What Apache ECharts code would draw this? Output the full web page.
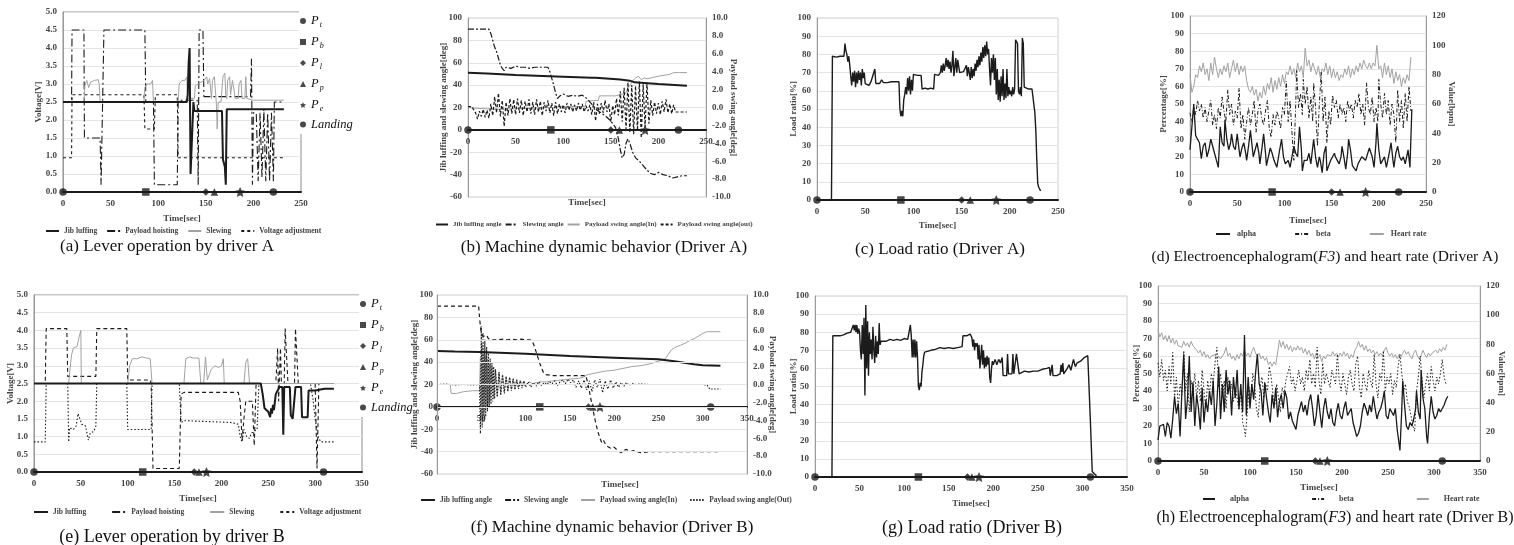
<!DOCTYPE html>
<html>
<head>
<meta charset="utf-8">
<title>Lever operation, machine behavior, load ratio and EEG (Driver A / B)</title>
<script src="https://cdn.jsdelivr.net/npm/echarts@6/dist/echarts.min.js"></script>
<style>
  html, body { margin: 0; padding: 0; background: #fff; }
  #chart { width: 1514px; height: 545px; }
</style>
</head>
<body>
<div id="chart"></div>
<script>
// ============================================================
//  Data
// ============================================================

// event markers (same symbols on every panel)
const eventNames = ['Pt', 'Pb', 'Pl', 'Pp', 'Pe', 'Landing'];
const eventTimesA = [0, 87, 150, 159, 186, 221];
const eventTimesB = [0, 116, 171, 176, 184, 309];

// ---- (a) lever operation, driver A [V] ----
const leverA_jib = [[0,2.5],[130,2.5],[131,2.7],[132,3.6],[133,4.0],[134,0.5],[136,0.5],[137,2.5],[138,2.25],[167,2.25],[168,0.9],[170,0.7],[171,0.2],[172,2.3],[232,2.3]];
const leverA_hoist = [[0,2.5],[9,2.5],[9.5,4.5],[22,4.5],[22.5,1.5],[39,1.5],[40,0.2],[42,0.2],[43,4.5],[86,4.5],[87,2.5],[95,2.5],[96,0.2],[120,0.2],[121,2.55],[141,2.55],[142,0.2],[143,4.5],[147,4.5],[148,2.65],[197,2.65],[198,3.7],[199,0.2],[200,2.2],[203,2.2],[205,0.3],[207,2.2],[209,0.4],[211,2.3],[213,0.3],[215,2.2],[217,0.3],[219,2.2],[221,0.3],[222,2.5],[232,2.5]];
const leverA_slew = [[0,2.5],[22,2.5],[23,2.95],[25,3.1],[27,2.9],[29,3.05],[31,3.0],[33,3.1],[35,3.05],[37,3.12],[38,3.0],[39,2.5],[85,2.5],[86,2.9],[88,3.0],[90,3.05],[92,3.0],[94,3.1],[95,2.5],[121,2.5],[122,3.0],[125,3.1],[128,3.1],[130,3.2],[131,2.6],[138,2.6],[139,2.95],[142,3.0],[145,3.05],[148,3.1],[151,3.2],[152,3.0],[154,3.15],[156,2.6],[157,3.1],[159,3.2],[160,3.15],[161,2.5],[162,1.75],[163,2.5],[166,2.5],[168,3.2],[170,3.3],[171,2.7],[172,2.6],[173,3.1],[175,3.2],[176,2.7],[178,3.1],[180,3.05],[181,2.6],[184,2.6],[185,3.0],[187,3.1],[188,2.6],[191,2.6],[192,3.2],[193,2.6],[200,2.55],[232,2.55]];
const leverA_volt = [[0,0.95],[9,0.95],[9.5,2.7],[85,2.7],[86,1.75],[96,1.75],[97,2.7],[120,2.7],[121,0.95],[232,0.95]];

// ---- (b) machine dynamic behavior, driver A [deg] ----
const dynA_jib = [[0,51],[20,50.5],[50,49],[100,47.5],[130,46.5],[132,47.5],[134,46.5],[160,45],[170,44],[175,42.5],[185,42],[200,41],[230,39.5]];
const dynA_slew = [[0,90],[22,90],[24,86],[26,80],[28,74],[30,70],[32,64],[34,58],[36,55],[38,53],[40,56],[45,55],[50,57],[55,56],[60,56],[65,55],[70,56],[75,56],[80,56],[84,56],[86,52],[88,46],[90,40],[92,33],[94,28],[96,30],[100,32],[105,30],[110,31],[115,30],[120,31],[125,28],[130,23],[135,18],[140,15],[145,12],[150,8],[155,2],[158,-8],[160,-18],[162,-25],[164,-22],[166,-12],[168,-8],[170,-12],[173,-20],[176,-25],[180,-28],[184,-32],[188,-36],[192,-39],[196,-40],[200,-38],[205,-40],[210,-41],[215,-43],[220,-42],[225,-41],[230,-41]];
const dynA_swingIn = [[0,0.0],[10,-0.1],[30,-0.2],[60,-0.1],[90,0.0],[95,0.1],[123,0.1],[124,0.7],[137,0.8],[138,1.3],[155,1.3],[156,1.5],[166,1.6],[168,2.2],[171,2.6],[173,3.0],[176,3.3],[179,3.5],[182,3.1],[185,3.3],[188,3.2],[192,3.3],[196,3.4],[200,3.5],[206,3.6],[212,3.7],[216,3.9],[222,3.9],[230,3.9]];
const dynA_swingOut = [[0,0.1],[4,0.1],[6,0.0],[8,-0.6],[10,-1.3],[12,-0.4],[14,-1.0],[16,-0.2],[18,-1.1],[20,-0.3],[22,-1.2],[24,0.4],[26,-0.9],[28,1.2],[30,-0.6],[32,1.6],[34,-1.0],[36,0.8],[38,-2.1],[40,0.6],[42,-0.9],[44,1.0],[46,-0.7],[48,0.9],[50,-0.8],[52,1.0],[54,-0.6],[56,0.8],[58,-0.9],[60,0.7],[62,-0.5],[64,0.9],[66,-0.7],[68,0.6],[70,-0.8],[72,0.9],[74,-0.5],[76,0.7],[78,-0.9],[80,0.6],[82,-0.4],[84,0.8],[86,-0.6],[88,0.5],[90,-0.9],[92,0.6],[94,-0.7],[96,0.4],[98,-0.5],[100,0.3],[102,-0.6],[104,0.5],[106,-0.3],[108,0.4],[110,-0.5],[112,0.3],[114,-0.4],[116,0.5],[118,-0.3],[120,0.4],[122,-0.5],[124,0.2],[126,-0.4],[128,0.3],[130,-0.8],[132,0.6],[134,-1.5],[136,0.4],[138,-0.7],[140,0.5],[142,-0.6],[144,0.8],[146,-0.5],[148,0.4],[150,-1.6],[152,0.2],[154,-0.8],[156,1.0],[158,-0.9],[160,1.8],[162,-1.6],[164,2.2],[166,-2.4],[168,2.8],[170,-2.8],[172,2.5],[174,-3.0],[176,2.4],[178,-2.6],[180,2.9],[182,-3.4],[184,2.6],[186,-2.2],[188,2.8],[190,-1.8],[192,0.8],[194,-0.9],[196,0.6],[198,-0.7],[200,0.5],[202,-0.8],[204,0.7],[206,-0.5],[208,0.9],[210,-0.6],[212,0.4],[214,-0.7],[216,0.3],[218,-0.5],[220,-0.5],[230,-0.5]];

// ---- (c) load ratio, driver A [%] ----
const loadA = [[0,0],[15,0],[16,79],[18,78],[20,78.5],[22,78],[24,79],[26,78.5],[28,79],[29,86],[30,82],[31,80],[32,76],[33,79],[34,74],[35,68],[36,63],[37,70],[38,65],[39,71],[40,62],[41,70],[42,64],[43,71],[44,66],[45,70],[46,63],[47,72],[48,67],[49,70],[50,64],[52,65],[54,63],[56,65],[58,64],[60,72],[61,64],[63,65],[65,64],[67,66],[69,64.5],[71,65.5],[73,64.5],[75,65.5],[77,65],[79,66],[81,65],[83,66],[85,65],[86,50],[87,46],[88,49],[89,46],[90,55],[91,58],[92,62],[93,58],[94,67],[95,60],[96,68],[97,58],[98,66],[99,60],[100,69],[102,69],[104,68.5],[106,69],[108,68.5],[109,61],[112,61.5],[115,61],[118,61.5],[121,61],[122,69],[124,69.5],[126,68.5],[128,70],[129,74],[130,70],[131,75],[132,71],[133,74],[134,78],[135,73],[136,77],[137,72],[138,76],[139,70],[140,74],[141,82],[142,68],[143,73],[144,78],[145,70],[146,77],[147,78],[148,70],[150,70],[152,70.5],[154,71],[155,74],[156,68],[157,73],[158,70],[159,66],[160,73],[161,67],[162,72],[163,68],[164,75],[165,71],[166,77],[167,73],[168,79],[169,74],[170,81],[171,76],[172,84],[173,78],[174,85],[175,79],[176,87],[177,80],[178,83],[179,72],[180,63],[181,78],[182,70],[183,80],[184,66],[185,78],[186,58],[187,72],[188,55],[189,66],[190,54],[191,68],[192,57],[193,72],[194,55],[195,64],[196,56],[197,72],[198,57],[199,62],[200,58],[201,60],[202,57],[203,62],[204,58],[205,61],[206,88],[207,87],[208,86],[209,60],[210,58],[211,62],[212,57],[213,89],[214,86],[215,62],[217,62],[219,61],[221,62],[223,61],[225,60],[226,48],[227,38],[228,22],[229,9],[230,7],[232,5]];

// ---- (d) EEG (F3) [%] and heart rate [bpm], driver A ----
const eegA_alpha = [[0,24],[2,25],[4,50],[6,32],[8,30],[10,28],[12,19],[14,26],[16,28],[18,20],[20,24],[22,30],[24,26],[26,22],[28,18],[30,14],[32,37],[34,28],[36,26],[37,41],[39,30],[41,24],[43,28],[44,33],[46,26],[48,24],[50,33],[52,24],[53,20],[55,25],[57,28],[59,22],[60,18],[62,26],[64,35],[66,25],[67,20],[69,24],[71,28],[73,22],[74,16],[76,24],[78,33],[80,22],[81,15],[83,20],[85,25],[87,22],[89,18],[92,14],[95,24],[97,30],[99,20],[101,16],[104,18],[106,14],[108,20],[110,26],[112,22],[114,20],[116,37],[118,24],[119,12],[121,18],[124,18],[126,22],[128,16],[131,30],[133,20],[135,14],[137,20],[138,18],[140,11],[142,22],[144,26],[145,12],[147,11],[149,18],[151,20],[153,22],[154,20],[156,18],[158,16],[160,20],[161,26],[163,20],[165,13],[167,22],[168,30],[170,24],[172,15],[174,14],[176,12],[178,16],[179,16],[182,20],[184,20],[186,18],[188,18],[190,25],[191,26],[193,20],[195,14],[197,28],[198,39],[200,24],[202,16],[204,18],[206,20],[208,14],[209,14],[211,22],[213,28],[215,18],[216,14],[218,22],[220,26],[222,20],[224,18],[226,20],[228,16],[229,16],[231,24],[233,14],[235,47]];
const eegA_beta = [[0,45],[2,40],[4,48],[6,44],[8,52],[10,46],[12,50],[14,42],[16,48],[18,40],[20,46],[22,52],[24,38],[26,44],[28,36],[30,48],[32,42],[34,54],[36,46],[38,40],[40,58],[42,44],[44,50],[46,38],[48,46],[50,42],[52,59],[54,36],[56,44],[58,30],[60,40],[62,48],[64,38],[66,44],[68,52],[70,34],[72,46],[74,50],[76,42],[78,38],[80,46],[82,52],[84,36],[86,31],[88,44],[90,38],[92,46],[94,42],[96,36],[98,48],[100,44],[102,63],[104,40],[106,52],[108,34],[110,18],[112,50],[113,69],[115,48],[117,56],[119,44],[120,64],[122,50],[124,60],[126,42],[128,54],[130,40],[131,62],[133,48],[135,26],[137,50],[139,68],[141,40],[143,54],[145,28],[147,46],[149,38],[151,55],[153,48],[155,52],[157,42],[159,50],[161,44],[163,48],[165,40],[167,52],[169,46],[171,50],[173,42],[175,52],[177,48],[179,56],[181,44],[183,50],[185,38],[187,62],[189,48],[191,44],[193,54],[195,40],[197,48],[199,40],[200,64],[202,50],[204,42],[206,56],[208,44],[210,52],[212,38],[214,50],[216,44],[218,28],[220,58],[222,40],[224,52],[226,36],[228,56],[230,40],[232,60],[234,46]];
const eegA_hr = [[0,80],[2,68],[4,72],[6,80],[8,78],[10,86],[12,82],[14,88],[16,80],[18,84],[20,76],[22,88],[24,80],[26,92],[28,84],[30,78],[32,84],[34,80],[36,86],[38,82],[40,88],[42,78],[44,84],[46,90],[48,82],[50,88],[52,80],[54,86],[56,82],[58,86],[60,76],[62,70],[64,68],[66,72],[68,66],[70,70],[72,62],[74,68],[76,64],[78,72],[80,66],[82,74],[84,70],[86,78],[88,68],[90,76],[92,70],[94,78],[96,72],[98,80],[100,74],[102,82],[104,80],[106,86],[108,80],[110,84],[112,78],[114,88],[116,82],[118,86],[120,78],[122,98],[124,86],[126,90],[128,82],[130,88],[132,84],[134,80],[136,86],[138,78],[140,84],[142,82],[144,88],[146,80],[148,86],[150,78],[152,84],[154,78],[156,82],[158,76],[160,80],[162,78],[164,84],[166,80],[168,86],[170,78],[172,84],[174,80],[176,86],[178,82],[180,88],[182,84],[184,90],[186,86],[188,84],[190,88],[192,84],[194,88],[196,86],[198,100],[200,84],[202,86],[204,78],[206,88],[208,80],[210,86],[212,78],[214,84],[216,74],[218,82],[220,76],[222,80],[224,72],[226,78],[228,74],[230,80],[232,76],[234,92]];

// ---- (e) lever operation, driver B [V] ----
const leverB_jib = [[0,2.5],[242,2.5],[244,2.2],[246,1.8],[248,1.85],[250,1.7],[252,1.55],[253,1.8],[254,1.65],[255,1.9],[256,1.75],[258,2.2],[260,2.3],[262,2.4],[265,2.4],[266,1.05],[267,2.4],[273,2.4],[274,1.6],[276,1.5],[278,1.5],[279,2.4],[285,2.4],[286,1.55],[292,1.55],[293,2.3],[300,2.3],[310,2.35],[320,2.35]];
const leverB_hoist = [[0,2.5],[12,2.5],[13,4.05],[35,4.05],[36,2.7],[66,2.7],[67,4.05],[99,4.05],[100,2.6],[124,2.6],[125,2.5],[127,0.1],[155,0.1],[157,2.2],[160,2.25],[218,2.25],[220,2.0],[222,0.9],[224,1.5],[226,2.0],[233,2.0],[235,0.75],[237,2.5],[258,2.5],[260,3.5],[261,2.0],[263,3.5],[264,2.5],[267,2.5],[268,4.05],[270,4.05],[271,2.5],[278,2.5],[279,4.05],[281,4.05],[282,2.5],[300,2.5],[302,0.1],[304,2.5],[320,2.5]];
const leverB_slew = [[0,2.5],[37,2.5],[38,2.8],[40,3.3],[42,3.5],[44,3.45],[46,3.55],[48,3.8],[50,4.0],[50.5,2.5],[100,2.5],[102,3.0],[105,3.2],[110,3.2],[115,3.25],[120,3.22],[124,3.2],[126,2.5],[160,2.5],[162,3.2],[166,3.25],[170,3.22],[176,3.22],[178,2.5],[181,2.5],[183,3.25],[185,2.6],[187,2.6],[189,2.9],[193,3.0],[197,2.95],[200,3.0],[202,3.2],[203,2.5],[224,2.5],[226,3.1],[228,3.2],[230,2.5],[320,2.5]];
const leverB_volt = [[0,0.85],[12,0.85],[13,2.5],[36,2.5],[37,0.85],[38,1.25],[42,1.2],[45,1.3],[47,1.65],[49,1.7],[51,1.35],[55,1.3],[57,1.3],[58,0.9],[60,1.1],[64,1.15],[66,1.3],[67,2.5],[99,2.5],[100,1.2],[125,1.2],[126,2.5],[155,2.5],[157,1.4],[160,1.45],[210,1.4],[218,1.35],[220,1.0],[222,0.85],[224,1.2],[227,1.0],[230,0.95],[232,1.1],[235,1.15],[238,1.2],[240,2.5],[295,2.5],[298,2.0],[300,1.5],[303,1.0],[306,0.85],[320,0.85]];

// ---- (f) machine dynamic behavior, driver B [deg] ----
const dynB_jib = [[0,50],[20,49.5],[48,49],[50,48.5],[100,47.5],[150,45.5],[200,44],[250,42.5],[270,40.5],[290,38],[300,37.2],[320,36.8]];
const dynB_slew = [[0,90],[47,90],[48,80],[49,72],[50,66],[52,63],[54,62],[56,64],[58,61],[60,62],[62,60],[64,61],[66,60],[68,61],[70,60],[75,60.5],[80,60],[85,60.5],[90,60],[95,60.5],[100,60],[105,60],[108,58],[110,54],[112,49],[114,44],[116,39],[118,35],[120,31],[122,29],[124,28],[130,28],[140,28],[150,28],[160,28],[168,28],[170,22],[172,14],[174,6],[176,-2],[178,-10],[180,-17],[182,-23],[184,-28],[186,-32],[188,-30],[190,-33],[192,-35],[194,-34],[196,-37],[198,-38],[200,-36],[202,-37],[204,-39],[206,-38],[208,-41],[210,-39],[214,-38],[218,-40],[222,-39],[226,-40],[230,-41],[240,-40],[260,-40],[280,-40],[300,-40],[320,-40]];
const dynB_swingIn = [[0,0],[15,0],[16,-1.0],[18,-1.1],[22,-1.0],[30,-0.8],[40,-0.7],[48,-0.7],[49,3.0],[50,-4.0],[51,4.5],[52,-3.5],[53,3.8],[54,-3.0],[55,3.2],[56,-2.6],[57,2.8],[58,-2.2],[59,2.3],[60,-1.9],[62,2.0],[64,-1.6],[66,1.7],[68,-1.3],[70,1.4],[72,-1.0],[74,1.1],[76,-0.8],[78,0.9],[80,-0.6],[82,0.8],[84,-0.5],[86,0.7],[88,-0.4],[90,0.6],[92,-0.3],[94,0.5],[96,-0.2],[98,0.4],[100,-0.1],[104,0.3],[108,0.1],[112,0.2],[118,0.3],[124,0.3],[130,0.4],[140,0.5],[150,0.6],[160,0.7],[165,0.8],[170,1.1],[180,1.3],[190,1.5],[200,1.6],[210,1.8],[220,2.0],[230,2.1],[240,2.3],[250,2.6],[258,2.9],[262,3.5],[265,3.9],[270,4.2],[275,4.4],[280,4.6],[285,4.9],[290,5.1],[295,5.4],[300,5.7],[305,5.9],[320,5.9]];
const dynB_swingOut = [[0,0],[10,0.05],[20,-0.05],[30,0.0],[40,-0.05],[48,0],[49,-5.5],[50,6.5],[51,-4.8],[52,5.8],[53,-4.2],[54,5.0],[55,-3.6],[56,4.2],[57,-3.0],[58,3.5],[59,-2.6],[60,2.9],[61,-2.2],[62,2.4],[63,-1.9],[64,2.0],[65,-1.6],[66,1.7],[68,-1.4],[70,1.4],[72,-1.2],[74,1.1],[76,-1.0],[78,0.9],[80,-0.8],[82,0.8],[84,-0.7],[86,0.6],[88,-0.6],[90,0.5],[92,-0.5],[94,0.4],[96,-0.4],[98,0.4],[100,-0.3],[103,0.3],[106,-0.3],[109,0.2],[112,-0.2],[115,0.3],[118,-0.1],[121,0.2],[124,0.0],[127,0.3],[130,0.1],[133,0.4],[136,-0.1],[139,0.3],[142,0.5],[145,0.1],[148,0.6],[151,0.2],[154,0.5],[157,-0.3],[160,0.4],[163,-0.4],[166,0.5],[169,-0.6],[172,0.4],[175,-0.8],[178,0.5],[181,-0.3],[184,0.6],[187,-0.9],[190,0.4],[193,-0.5],[196,0.5],[199,-0.4],[202,0.3],[205,-0.3],[208,0.2],[211,-0.2],[214,0.2],[217,-0.1],[220,0.1],[225,0.0],[230,0.05],[240,0.0],[260,0.0],[280,0.0],[300,0.0],[305,-0.1],[308,-0.5],[320,-0.5]];

// ---- (g) load ratio, driver B [%] ----
const loadB = [[0,0],[19,0],[20,78],[22,79],[24,78],[26,78.5],[28,78],[30,79],[32,78.5],[34,79],[36,79.5],[38,79],[40,80],[42,79.5],[43,84],[44,81],[45,84],[46,80],[47,84],[48,79],[49,82],[50,80],[51,70],[52,65],[53,84],[54,68],[55,88],[56,45],[57,95],[58,60],[59,86],[60,56],[61,80],[62,68],[63,76],[64,65],[65,83],[66,70],[67,63],[68,78],[69,66],[70,75],[71,68],[72,85],[73,73],[74,75],[76,75.5],[80,75],[84,76],[88,75.5],[92,76],[96,75.5],[100,76.5],[104,76],[106,77],[107,84],[108,78],[109,66],[110,76],[111,66],[112,76],[113,66],[114,75],[115,66],[116,50],[117,48],[118,52],[119,50],[120,58],[121,62],[122,67],[123,69],[125,69.5],[130,70],[135,70.5],[140,71.5],[145,71],[150,71.5],[155,71],[160,71.5],[165,72],[166,78],[168,77],[170,78],[172,77],[174,79],[176,77],[177,72],[178,76],[179,70],[180,74],[181,72],[182,74],[183,65],[184,73],[185,60],[186,66],[187,73],[188,62],[189,70],[190,60],[191,66],[192,61],[193,67],[194,62],[195,66],[196,55],[197,52],[198,60],[199,64],[200,62],[202,65],[204,62],[206,65],[208,63],[210,66],[211,56],[213,57],[215,56],[216,68],[217,57],[219,58],[221,57],[222,68],[223,57],[225,58],[226,68],[228,67],[229,57],[231,58],[235,58.5],[240,58],[245,58.5],[250,58.5],[255,59.5],[260,60],[263,60.5],[264,56],[266,62],[267,56],[269,55.5],[271,56],[273,55],[275,57],[276,62],[277,58],[278,63],[279,57],[281,58],[283,60],[285,62],[287,59],[289,63],[290,65],[292,61],[294,63],[296,62],[298,64],[300,63],[302,66],[304,65],[306,67],[307,66],[309,30],[311,3],[313,2],[315,1],[316,1]];

// ---- (h) EEG (F3) [%] and heart rate [bpm], driver B ----
const eegB_alpha = [[0,12],[2,20],[4,19],[6,21],[8,14],[10,22],[12,20],[14,13],[16,24],[18,37],[20,27],[22,33],[24,14],[26,40],[28,61],[30,24],[32,35],[34,60],[36,28],[38,45],[40,20],[42,38],[44,30],[46,18],[48,42],[50,22],[52,35],[54,28],[56,40],[58,32],[60,46],[62,20],[64,33],[66,54],[68,24],[70,44],[72,28],[74,52],[76,38],[78,46],[80,26],[82,48],[84,36],[86,52],[88,30],[90,44],[92,28],[94,72],[96,26],[98,48],[100,30],[102,44],[104,35],[106,50],[108,61],[110,44],[112,40],[114,26],[116,45],[118,36],[120,28],[122,22],[124,38],[126,30],[128,42],[130,25],[132,34],[134,38],[136,30],[138,40],[140,36],[142,24],[144,28],[146,23],[148,22],[150,18],[152,26],[154,30],[156,34],[158,28],[160,32],[162,26],[164,34],[166,38],[168,30],[170,20],[172,26],[174,38],[176,28],[178,19],[180,30],[182,36],[184,28],[186,24],[188,30],[190,22],[192,20],[194,28],[196,33],[198,26],[200,24],[202,30],[204,34],[206,26],[208,28],[210,30],[212,22],[214,18],[216,14],[218,16],[220,20],[222,28],[224,33],[226,30],[228,26],[230,32],[232,28],[234,37],[236,30],[238,24],[240,28],[242,30],[244,34],[246,40],[248,26],[250,24],[252,30],[254,28],[256,26],[258,30],[260,18],[261,14],[263,6],[265,30],[266,46],[268,32],[270,20],[272,18],[274,22],[276,20],[278,24],[280,30],[281,40],[283,28],[285,24],[286,52],[288,36],[290,30],[292,14],[293,10],[295,26],[297,37],[299,28],[301,24],[303,26],[305,30],[307,28],[309,30],[311,32],[313,35],[315,37]];
const eegB_beta = [[0,56],[2,48],[4,58],[6,46],[8,52],[10,40],[12,54],[14,44],[16,62],[18,36],[20,48],[22,30],[24,44],[26,38],[28,63],[30,40],[32,50],[34,28],[36,46],[38,40],[40,50],[42,36],[44,46],[46,34],[48,52],[50,40],[52,30],[54,46],[56,38],[58,50],[60,44],[62,56],[64,65],[66,42],[68,50],[70,36],[72,46],[74,30],[76,48],[78,40],[80,44],[82,34],[84,42],[86,36],[88,29],[90,40],[92,22],[94,18],[95,14],[97,28],[99,42],[101,36],[103,50],[105,44],[107,30],[109,25],[111,42],[113,48],[115,36],[117,44],[119,40],[121,54],[123,48],[125,38],[127,32],[129,44],[131,36],[133,28],[135,42],[137,38],[139,46],[141,50],[143,54],[145,44],[147,48],[149,40],[151,46],[153,52],[155,44],[157,48],[159,40],[161,52],[163,46],[165,58],[167,44],[169,50],[171,42],[173,65],[175,46],[177,38],[179,56],[181,44],[183,50],[185,46],[187,42],[189,52],[191,48],[193,44],[195,61],[197,46],[199,40],[201,50],[203,44],[205,38],[207,48],[209,52],[211,44],[213,40],[215,56],[217,60],[219,42],[221,36],[223,50],[225,44],[227,40],[229,52],[231,46],[233,42],[235,61],[237,44],[239,36],[241,50],[243,46],[245,63],[247,40],[249,48],[251,44],[253,50],[255,38],[257,46],[259,42],[261,54],[263,61],[265,50],[267,40],[269,44],[271,34],[273,31],[275,26],[277,20],[279,17],[281,40],[283,48],[285,60],[287,46],[289,36],[291,44],[293,50],[295,40],[297,54],[299,46],[301,40],[303,48],[305,44],[307,50],[309,58],[311,48],[313,44]];
const eegB_hr = [[0,90],[2,85],[4,88],[6,83],[8,86],[10,82],[12,86],[14,81],[16,84],[18,80],[20,83],[22,79],[24,80],[26,78],[28,82],[30,79],[32,81],[34,78],[36,82],[38,79],[40,80],[42,76],[44,74],[46,76],[48,72],[50,75],[52,71],[54,73],[56,70],[58,72],[60,71],[62,73],[64,70],[66,72],[68,70],[70,71],[72,74],[74,78],[76,72],[78,74],[80,70],[82,72],[84,69],[86,73],[88,70],[90,74],[92,72],[94,76],[96,72],[98,74],[100,71],[102,75],[104,78],[106,74],[108,72],[110,74],[112,70],[114,72],[116,69],[118,71],[120,66],[122,68],[124,65],[126,68],[128,66],[130,74],[132,83],[134,78],[136,82],[138,77],[140,80],[142,76],[144,79],[146,75],[148,78],[150,76],[152,79],[154,76],[156,78],[158,74],[160,77],[162,73],[164,76],[166,72],[168,74],[170,70],[172,74],[174,71],[176,73],[178,68],[180,72],[182,70],[184,73],[186,74],[188,72],[190,75],[192,72],[194,74],[196,71],[198,74],[200,72],[202,75],[204,72],[206,74],[208,70],[210,73],[212,71],[214,76],[216,78],[218,82],[220,78],[222,80],[224,76],[226,79],[228,75],[230,77],[232,74],[234,76],[236,73],[238,75],[240,72],[242,74],[244,72],[246,76],[248,78],[250,74],[252,72],[254,74],[256,71],[258,73],[260,70],[262,73],[264,71],[266,74],[268,76],[270,73],[272,75],[274,72],[276,70],[278,74],[280,76],[282,72],[284,70],[286,72],[288,76],[290,73],[292,71],[294,74],[296,72],[298,74],[300,73],[302,76],[304,74],[306,77],[308,75],[310,78],[312,76],[314,80]];

// ============================================================
//  Styles / helpers
// ============================================================
const FONT = '"Liberation Serif", "DejaVu Serif", serif';
const BLACK = '#1b1b1b';
const GREY = '#a2a2a2';
const LABEL = { fontFamily: FONT, fontSize: 9, fontWeight: 'bold', color: '#444' };
const STAR = 'path://M0,-10L2.9,-4L9.5,-3.1L4.7,1.5L5.9,8.1L0,5L-5.9,8.1L-4.7,1.5L-9.5,-3.1L-2.9,-4Z';
const eventSymbols = ['circle', 'rect', 'diamond', 'triangle', STAR, 'circle'];

const grids = [];
const xAxes = [];
const yAxes = [];
const series = [];
const legends = [];
const titles = [];

function addGrid(left, top, width, height, border) {
  grids.push({ left, top, width, height, show: true, borderColor: border, borderWidth: 1, containLabel: false });
  return grids.length - 1;
}

// time axis; when the value axis goes below zero the axis is shifted up to the zero line
function addTimeAxis(gi, max, nameGap, yMin, yMax) {
  let offset = 0;
  if (yMin !== undefined && yMin < 0) {
    offset = -grids[gi].height * (0 - yMin) / (yMax - yMin);
  }
  xAxes.push({
    type: 'value', gridIndex: gi, min: 0, max, interval: 50, position: 'bottom', offset,
    name: nameGap ? 'Time[sec]' : '', nameLocation: 'middle', nameGap: nameGap || 0,
    nameMoveOverlap: false,
    nameTextStyle: LABEL,
    axisLine: { show: true, onZero: false, lineStyle: { color: BLACK, width: 2 } },
    axisTick: { show: false },
    axisLabel: Object.assign({ margin: 7 }, LABEL),
    splitLine: { show: false }
  });
  return xAxes.length - 1;
}

function addValueAxis(gi, o) {
  yAxes.push({
    type: 'value', gridIndex: gi, min: o.min, max: o.max, interval: o.interval,
    position: o.pos || 'left', z: o.z || 0,
    name: o.name, nameLocation: 'middle', nameGap: o.gap, nameRotate: o.pos === 'right' ? -90 : 90,
    nameMoveOverlap: false,
    nameTextStyle: LABEL,
    axisLine: { show: true, lineStyle: { color: '#9a9a9a', width: 1 } },
    axisTick: { show: false },
    axisLabel: Object.assign({ margin: o.margin || 6, formatter: o.fmt }, LABEL),
    splitLine: { show: !!o.split, lineStyle: { color: '#e4e4e4', width: 1 } }
  });
  return yAxes.length - 1;
}

function addLine(name, data, xi, yi, color, width, dash) {
  series.push({
    name, type: 'line', xAxisIndex: xi, yAxisIndex: yi, data,
    symbol: 'none', showSymbol: false, silent: true,
    lineStyle: { color, width, type: dash || 'solid' },
    itemStyle: { color }, z: 2
  });
}

function addEvents(times, xi, yi) {
  eventNames.forEach(function (n, k) {
    series.push({
      name: n, type: 'scatter', xAxisIndex: xi, yAxisIndex: yi,
      data: [[times[k], 0]], symbol: eventSymbols[k], symbolSize: k === 4 ? 10 : 7.5,
      itemStyle: { color: BLACK }, clip: false, silent: true, z: 6
    });
  });
}

function lineLegend(names, left, top, gap, fontSize, iconW, textPad) {
  legends.push({
    data: names, left, top, itemGap: gap, itemWidth: iconW, itemHeight: 8, padding: 0,
    selectedMode: false,
    itemStyle: { opacity: 0 },  // line only, no point symbol in the key
    textStyle: { fontFamily: FONT, fontWeight: 'bold', color: '#444', fontSize, padding: [0, 0, 0, textPad || 0] }
  });
}

function eventLegend(left, top) {
  legends.push({
    data: eventNames, orient: 'vertical', left, top,
    itemWidth: 6, itemHeight: 6, itemGap: 5, padding: [3, 1, 3, 1],
    backgroundColor: '#fff', selectedMode: false, z: 8,
    formatter: function (n) { return n === 'Landing' ? '{m|Landing}' : '{m|P}{s|' + n.slice(1) + '}'; },
    textStyle: {
      fontFamily: FONT, fontStyle: 'italic', fontSize: 12.5, color: '#111',
      rich: {
        m: { fontFamily: FONT, fontStyle: 'italic', fontSize: 12.5, lineHeight: 18, color: '#111' },
        s: { fontFamily: FONT, fontStyle: 'italic', fontSize: 8, lineHeight: 10, padding: [8, 0, 0, 1], color: '#111' }
      }
    }
  });
}

function caption(text, x, y, size) {
  titles.push({
    text, left: x, top: y, padding: 0, textAlign: 'center', textVerticalAlign: 'middle',
    textStyle: {
      fontFamily: FONT, fontSize: size, fontWeight: 'normal', color: '#111',
      rich: { i: { fontFamily: FONT, fontSize: size, fontStyle: 'italic', color: '#111' } }
    }
  });
}

function axisTitle(text, x, y) {
  titles.push({ text, left: x, top: y, padding: 0, textAlign: 'center', textVerticalAlign: 'middle', textStyle: LABEL });
}

const fmt1 = function (v) { return v.toFixed(1); };

// ============================================================
//  (a) Lever operation by driver A
// ============================================================
(function () {
  const g = addGrid(63, 12, 238, 180, '#8c8c8c');
  const x = addTimeAxis(g, 250, 22);
  const y = addValueAxis(g, { min: 0, max: 5, interval: 0.5, name: 'Voltage[V]', gap: 20, fmt: fmt1, split: true });
  addLine('Voltage adjustment', leverA_volt, x, y, BLACK, 1.1, [3, 3]);
  addLine('Payload hoisting', leverA_hoist, x, y, BLACK, 1.1, [8, 3, 2, 3]);
  addLine('Slewing', leverA_slew, x, y, GREY, 1);
  addLine('Jib luffing', leverA_jib, x, y, BLACK, 2);
  addEvents(eventTimesA, x, y);
  lineLegend(['Jib luffing', 'Payload hoisting', 'Slewing', 'Voltage adjustment'], 45, 227, 9, 7.5, 13);
  eventLegend(299, 10);
  caption('(a) Lever operation by driver A', 167, 247, 17);
})();

// ============================================================
//  (b) Machine dynamic behavior (Driver A)
// ============================================================
(function () {
  const g = addGrid(468, 18, 238, 179, '#cfcfcf');
  const x = addTimeAxis(g, 250, 0, -60, 100);
  const yl = addValueAxis(g, { min: -60, max: 100, interval: 20, name: 'Jib luffing and slewing angle[deg]', gap: 20, split: true });
  const yr = addValueAxis(g, { min: -10, max: 10, interval: 2, pos: 'right', name: 'Payload swing angle[deg]', gap: 23, fmt: fmt1 });
  addLine('Payload swing angle(In)', dynA_swingIn, x, yr, GREY, 1);
  addLine('Payload swing angle(out)', dynA_swingOut, x, yr, BLACK, 1.2, [3, 2]);
  addLine('Slewing angle', dynA_slew, x, yl, BLACK, 1.2, [6, 2, 2, 2]);
  addLine('Jib luffing angle', dynA_jib, x, yl, BLACK, 2);
  addEvents(eventTimesA, x, yl);
  axisTitle('Time[sec]', 587, 203);
  lineLegend(['Jib luffing angle', 'Slewing angle', 'Payload swing angle(In)', 'Payload swing angle(out)'], 435, 221, 3, 7, 12);
  caption('(b) Machine dynamic behavior (Driver A)', 604, 248, 17);
})();

// ============================================================
//  (c) Load ratio (Driver A)
// ============================================================
(function () {
  const g = addGrid(817, 18, 241, 182, '#cfcfcf');
  const x = addTimeAxis(g, 250, 21);
  const y = addValueAxis(g, { min: 0, max: 100, interval: 10, name: 'Load ratio[%]', gap: 19, split: true });
  addLine('Load ratio A', loadA, x, y, BLACK, 1.4);
  addEvents(eventTimesA, x, y);
  caption('(c) Load ratio (Driver A)', 940, 250, 17);
})();

// ============================================================
//  (d) Electroencephalogram(F3) and heart rate (Driver A)
// ============================================================
(function () {
  const g = addGrid(1190, 16, 236, 176, '#cfcfcf');
  const x = addTimeAxis(g, 250, 24);
  const yl = addValueAxis(g, { min: 0, max: 100, interval: 10, name: 'Percentage[%]', gap: 22, split: true });
  const yr = addValueAxis(g, { min: 0, max: 120, interval: 20, pos: 'right', name: 'Value[bpm]', gap: 21 });
  addLine('Heart rate', eegA_hr, x, yr, GREY, 1);
  addLine('beta', eegA_beta, x, yl, BLACK, 1, [4, 2, 1, 2]);
  addLine('alpha', eegA_alpha, x, yl, BLACK, 1.3);
  addEvents(eventTimesA, x, yl);
  lineLegend(['alpha', 'beta', 'Heart rate'], 1215, 230, 38, 8, 14, 2);
  caption('(d) Electroencephalogram({i|F3}) and heart rate (Driver A)', 1325, 257, 15.5);
})();

// ============================================================
//  (e) Lever operation by driver B
// ============================================================
(function () {
  const g = addGrid(34, 295, 328, 177, '#8c8c8c');
  const x = addTimeAxis(g, 350, 22);
  const y = addValueAxis(g, { min: 0, max: 5, interval: 0.5, name: 'Voltage[V]', gap: 19, fmt: fmt1, split: true });
  addLine('Voltage adjustment', leverB_volt, x, y, BLACK, 1.1, [1.5, 2]);
  addLine('Payload hoisting', leverB_hoist, x, y, BLACK, 1.1, [4, 3]);
  addLine('Slewing', leverB_slew, x, y, GREY, 1);
  addLine('Jib luffing', leverB_jib, x, y, BLACK, 2);
  addEvents(eventTimesB, x, y);
  lineLegend(['Jib luffing', 'Payload hoisting', 'Slewing', 'Voltage adjustment'], 33, 508, 25, 7.5, 14);
  eventLegend(359, 293);
  caption('(e) Lever operation by driver B', 172, 537, 18);
})();

// ============================================================
//  (f) Machine dynamic behavior (Driver B)
// ============================================================
(function () {
  const g = addGrid(437, 295, 310, 179, '#cfcfcf');
  const x = addTimeAxis(g, 350, 0, -60, 100);
  const yl = addValueAxis(g, { min: -60, max: 100, interval: 20, name: 'Jib luffing and slewing angle[deg]', gap: 18, margin: 4, split: true, z: 10 });
  const yr = addValueAxis(g, { min: -10, max: 10, interval: 2, pos: 'right', name: 'Payload swing angle[deg]', gap: 21, fmt: fmt1 });
  addLine('Payload swing angle(In)', dynB_swingIn, x, yr, GREY, 1);
  addLine('Payload swing angle(Out)', dynB_swingOut, x, yr, BLACK, 1.1, [1.5, 1.5]);
  addLine('Slewing angle', dynB_slew, x, yl, BLACK, 1.2, [4, 3]);
  addLine('Jib luffing angle', dynB_jib, x, yl, BLACK, 2);
  addEvents(eventTimesB, x, yl);
  axisTitle('Time[sec]', 620, 485);
  lineLegend(['Jib luffing angle', 'Slewing angle', 'Payload swing angle(In)', 'Payload swing angle(Out)'], 420, 496, 12, 7.5, 14);
  caption('(f) Machine dynamic behavior (Driver B)', 612, 528, 17);
})();

// ============================================================
//  (g) Load ratio (Driver B)
// ============================================================
(function () {
  const g = addGrid(815, 296, 312, 181, '#cfcfcf');
  const x = addTimeAxis(g, 350, 22);
  const y = addValueAxis(g, { min: 0, max: 100, interval: 10, name: 'Load ratio[%]', gap: 17, split: true });
  addLine('Load ratio B', loadB, x, y, BLACK, 1.4);
  addEvents(eventTimesB, x, y);
  caption('(g) Load ratio (Driver B)', 972, 528, 18);
})();

// ============================================================
//  (h) Electroencephalogram(F3) and heart rate (Driver B)
// ============================================================
(function () {
  const g = addGrid(1158, 286, 322, 175, '#cfcfcf');
  const x = addTimeAxis(g, 350, 22);
  const yl = addValueAxis(g, { min: 0, max: 100, interval: 10, name: 'Percentage[%]', gap: 17, split: true });
  const yr = addValueAxis(g, { min: 0, max: 120, interval: 20, pos: 'right', name: 'Value[bpm]', gap: 17 });
  addLine('Heart rate', eegB_hr, x, yr, GREY, 1);
  addLine('beta', eegB_beta, x, yl, BLACK, 1, [1.5, 2]);
  addLine('alpha', eegB_alpha, x, yl, BLACK, 1.3);
  addEvents(eventTimesB, x, yl);
  lineLegend(['alpha', 'beta', 'Heart rate'], 1202, 495, 62, 8, 12, 10);
  caption('(h) Electroencephalogram({i|F3}) and heart rate (Driver B)', 1335, 518, 16);
})();

// ============================================================
//  Render
// ============================================================
const chart = echarts.init(document.getElementById('chart'), null, { renderer: 'canvas' });
chart.setOption({
  backgroundColor: '#fff',
  animation: false,
  title: titles,
  grid: grids,
  xAxis: xAxes,
  yAxis: yAxes,
  legend: legends,
  series: series
});
window.addEventListener('resize', function () { chart.resize(); });
</script>
</body>
</html>
